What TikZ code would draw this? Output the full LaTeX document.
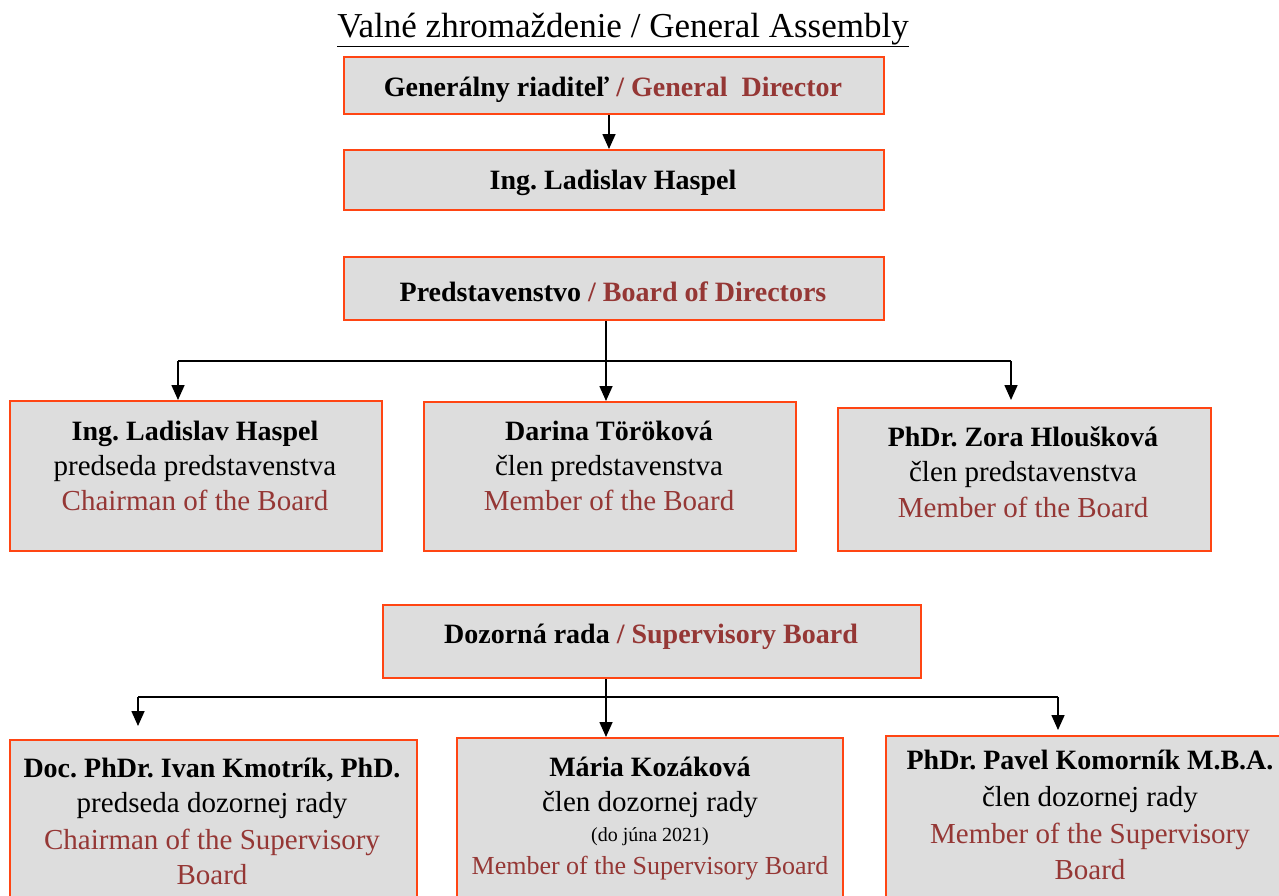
\documentclass[tikz,border=0pt]{standalone}
\usepackage{fontspec}
\setmainfont{Liberation Serif}
\usetikzlibrary{arrows.meta}
\definecolor{bdc}{HTML}{FF4513}
\definecolor{flc}{HTML}{DDDDDD}
\definecolor{rdc}{HTML}{953735}
\frenchspacing
\tikzset{
  box/.style={draw=bdc, fill=flc, line width=2pt, inner sep=0pt, anchor=north west},
  bt/.style={anchor=base, inner sep=0pt, font=\fontsize{28}{34}\selectfont\bfseries},
  nt/.style={anchor=base, inner sep=0pt, font=\fontsize{29}{34}\selectfont},
  rt/.style={nt, text=rdc},
  con/.style={line width=1.6pt},
  arr/.style={con, -{Triangle[length=15pt,width=13pt]}},
}
\begin{document}
\begin{tikzpicture}[x=1pt,y=1pt]
\useasboundingbox (0,0) rectangle (1279,-895);
% title
\node[anchor=base, inner sep=0pt, font=\fontsize{35}{40}\selectfont] (title) at (623,-37) {\underline{Valné zhromaždenie / General Assembly}};
% top boxes
\node[box, minimum width=540pt, minimum height=57pt] (gd) at (343,-56) {};
\node[box, minimum width=540pt, minimum height=60pt] (hs) at (343,-149) {};
\node[box, minimum width=540pt, minimum height=63pt] (bd) at (343,-256) {};
\node[bt] (gdt) at (613,-96) {Generálny riaditeľ \textcolor{rdc}{/ General\ \ Director}};
\node[bt] (hst) at (613,-189) {Ing. Ladislav Haspel};
\node[bt] (bdt) at (613,-301) {Predstavenstvo \textcolor{rdc}{/ Board of Directors}};
% board members
\node[box, minimum width=372pt, minimum height=150pt] (b1) at (9,-400) {};
\node[box, minimum width=372pt, minimum height=149pt] (b2) at (423,-401) {};
\node[box, minimum width=373pt, minimum height=143pt] (b3) at (837,-407) {};
\node[bt] (b1a) at (195,-440) {Ing. Ladislav Haspel};
\node[nt] (b1b) at (195,-475) {predseda predstavenstva};
\node[rt] (b1c) at (195,-510) {Chairman of the Board};
\node[bt] (b2a) at (609,-440) {Darina Töröková};
\node[nt] (b2b) at (609,-475) {člen predstavenstva};
\node[rt] (b2c) at (609,-510) {Member of the Board};
\node[bt] (b3a) at (1023,-446) {PhDr. Zora Hloušková};
\node[nt] (b3b) at (1023,-481) {člen predstavenstva};
\node[rt] (b3c) at (1023,-517) {Member of the Board};
% supervisory board
\node[box, minimum width=538pt, minimum height=73pt] (sb) at (382,-604) {};
\node[bt] (sbt) at (651,-643) {Dozorná rada \textcolor{rdc}{/ Supervisory Board}};
\node[box, minimum width=407pt, minimum height=175pt] (b4) at (9,-739) {};
\node[box, minimum width=386pt, minimum height=177pt] (b5) at (456,-737) {};
\node[box, minimum width=404pt, minimum height=179pt] (b6) at (885,-735) {};
\node[bt] (b4a) at (212,-777) {Doc. PhDr. Ivan Kmotrík, PhD.};
\node[nt] (b4b) at (212,-812) {predseda dozornej rady};
\node[rt] (b4c) at (212,-849) {Chairman of the Supervisory};
\node[rt] (b4d) at (212,-884) {Board};
\node[bt] (b5a) at (650,-776) {Mária Kozáková};
\node[nt] (b5b) at (650,-811) {člen dozornej rady};
\node[nt, font=\fontsize{20}{24}\selectfont] (b5c) at (650,-841) {(do júna 2021)};
\node[rt, font=\fontsize{26}{30}\selectfont] (b5d) at (650,-874) {Member of the Supervisory Board};
\node[bt] (b6a) at (1090,-769) {PhDr. Pavel Komorník M.B.A.};
\node[nt] (b6b) at (1090,-806) {člen dozornej rady};
\node[rt] (b6c) at (1090,-843) {Member of the Supervisory};
\node[rt] (b6d) at (1090,-879) {Board};
% connectors
\draw[arr] ([xshift=-5pt]gd.south) -- ([xshift=-5pt]gd.south |- hs.north);
\coordinate (bl) at (178,-361);
\coordinate (br) at (1011,-361);
\draw[con, line width=2pt] (bl) -- (br);
\draw[arr] ([xshift=-8pt]bd.south) -- ([xshift=-8pt]bd.south |- b2.north);
\draw[arr] (bl) -- (bl |- b1.north);
\draw[arr] (br) -- ([yshift=7pt]br |- b3.north);
\coordinate (sl) at (138,-697);
\coordinate (sr) at (1058,-697);
\draw[con, line width=2pt] (sl) -- (sr);
\draw[arr] ([xshift=-46pt]sb.south) -- ([xshift=-46pt]sb.south |- b5.north);
\draw[arr] (sl) -- ([yshift=13pt]sl |- b4.north);
\draw[arr] (sr) -- ([yshift=5pt]sr |- b6.north);
\end{tikzpicture}
\end{document}
